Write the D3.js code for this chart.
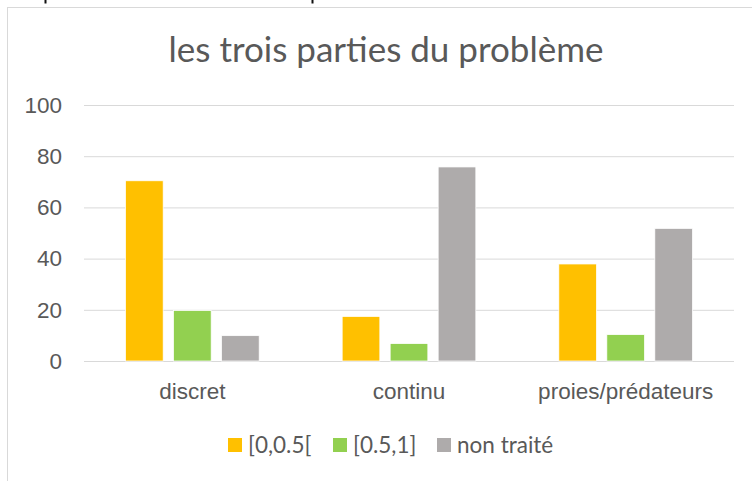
<!DOCTYPE html>
<html>
<head>
<meta charset="utf-8">
<script src="https://cdn.jsdelivr.net/npm/d3@7"></script>
<style>
  body { margin: 0; background: #fff; }
  svg { display: block; font-family: Lato, "Open Sans", sans-serif; }
  .title { font-size: 35px; fill: #595959; }
  .tick-label { font-size: 22.5px; fill: #595959; }
  .cat-label { font-size: 22.5px; fill: #595959; }
  .legend-label { font-size: 22.5px; fill: #595959; }
</style>
</head>
<body>
<svg></svg>
<script>
const categories = ["discret", "continu", "proies/prédateurs"]
const seriesNames = ["[0,0.5[", "[0.5,1]", "non traité"]
const lowValues = [70.4, 17.4, 37.9]
const highValues = [19.7, 6.8, 10.3]
const untreatedValues = [9.9, 75.8, 51.8]
const yTicks = [0, 20, 40, 60, 80, 100]
const colors = ["#FFC000", "#92D050", "#AEABAB"]

const seriesValues = [lowValues, highValues, untreatedValues]

const data = categories.map((c, i) => {
  return { category: c, values: seriesValues.map((s, j) => ({ series: seriesNames[j], value: s[i] })) }
})

const svg = d3.select("svg")
  .attr("width", 752)
  .attr("height", 481)

// chart frame, runs past the right and bottom edges
svg.append("rect")
  .attr("x", 7.5)
  .attr("y", 7.5)
  .attr("width", 820)
  .attr("height", 520)
  .attr("fill", "#fff")
  .attr("stroke", "#D9D9D9")
  .attr("stroke-width", 1)

// descender stubs of the page text above the chart
svg.selectAll("rect.stub")
  .data([44.5, 311.5])
  .enter()
  .append("rect")
  .attr("class", "stub")
  .attr("x", (d) => d)
  .attr("y", 0)
  .attr("width", 2)
  .attr("height", 3.5)
  .attr("fill", "#111")

svg.append("text")
  .attr("class", "title")
  .attr("x", 386)
  .attr("y", 62)
  .attr("text-anchor", "middle")
  .text("les trois parties du problème")

const y = d3.scaleLinear()
  .domain([0, 100])
  .range([361, 105])

const x0 = d3.scaleBand()
  .domain(categories)
  .range([84, 734])
  .paddingInner(0.383)
  .paddingOuter(0.383 / 2)

const x1 = d3.scaleBand()
  .domain(seriesNames)
  .range([0, x0.bandwidth()])
  .paddingInner(0.215)
  .paddingOuter(0)

const color = d3.scaleOrdinal()
  .domain(seriesNames)
  .range(colors)

// gridlines + labels
const yAxis = svg.append("g")
  .attr("transform", "translate(84,0)")
  .call(d3.axisLeft(y).tickValues(yTicks).tickSize(-650).tickPadding(22).tickFormat(d3.format("d")))

yAxis.select(".domain").remove()
yAxis.selectAll(".tick line")
  .attr("stroke", "#D9D9D9")
  .attr("stroke-width", 1)
yAxis.selectAll(".tick text")
  .attr("class", "tick-label")
  .attr("font-size", null)
  .attr("font-family", null)
  .attr("fill", null)

const groups = svg.selectAll("g.cat")
  .data(data)
  .enter()
  .append("g")
  .attr("class", "cat")
  .attr("transform", (d) => `translate(${x0(d.category)},0)`)

groups.selectAll("rect")
  .data((d) => d.values)
  .enter()
  .append("rect")
  .attr("x", (d) => x1(d.series))
  .attr("width", x1.bandwidth())
  .attr("y", (d) => y(d.value))
  .attr("height", (d) => y(0) - y(d.value))
  .attr("fill", (d) => color(d.series))
  .attr("stroke", "#fff")
  .attr("stroke-width", 0.75)

// category axis labels
const xAxis = svg.append("g")
  .attr("transform", `translate(0,${y(0)})`)
  .call(d3.axisBottom(x0).tickSize(0).tickPadding(22))

xAxis.select(".domain").remove()
xAxis.selectAll(".tick text")
  .attr("class", "cat-label")
  .attr("font-size", null)
  .attr("font-family", null)
  .attr("fill", null)

// legend
const legendX = [228, 333, 437]

const legend = svg.selectAll("g.legend")
  .data(seriesNames)
  .enter()
  .append("g")
  .attr("class", "legend")
  .attr("transform", (d, i) => `translate(${legendX[i]},438)`)

legend.append("rect")
  .attr("width", 14)
  .attr("height", 14)
  .attr("fill", (d) => color(d))

legend.append("text")
  .attr("class", "legend-label")
  .attr("x", 20)
  .attr("y", 14.5)
  .text((d) => d)
</script>
</body>
</html>
